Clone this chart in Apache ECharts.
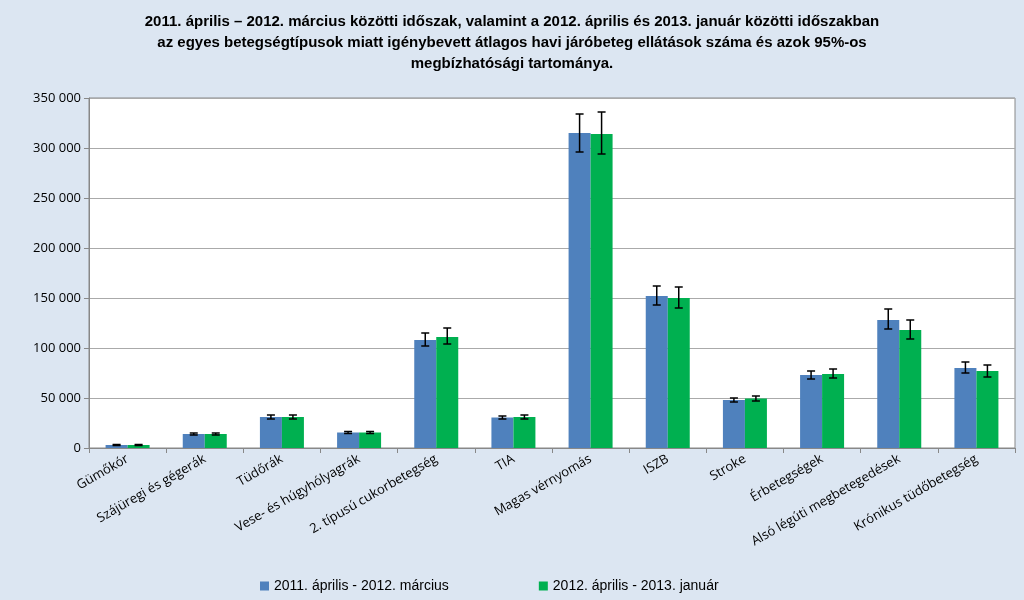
<!DOCTYPE html><html><head><meta charset="utf-8"><script src="https://cdn.jsdelivr.net/npm/echarts@6/dist/echarts.min.js"></script></head>
<body style="margin:0;background:#dce6f2"><div id="c" style="width:1024px;height:600px"></div><script>
const categories=['Gümőkór','Szájüregi és gégerák','Tüdőrák','Vese- és húgyhólyagrák','2. típusú cukorbetegség','TIA','Magas vérnyomás','ISZB','Stroke','Érbetegségek','Alsó légúti megbetegedések','Krónikus tüdőbetegség'];
const s1=[3000,14000,31000,15500,108000,30500,315000,152000,48000,73000,128000,80000];
const s1lo=[2500,13000,29000,14500,102000,29000,296000,143000,46000,69000,119000,75000];
const s1hi=[3500,15000,33000,16500,115000,32000,334000,162000,50000,77000,139000,86000];
const s2=[3000,14000,31000,15500,111000,31000,314000,150000,49500,74000,118000,77000];
const s2lo=[2500,13000,29000,14500,104000,29000,294000,140000,47000,70000,109000,71000];
const s2hi=[3500,15000,33000,16500,120000,33000,336000,161000,52000,79000,128000,83000];
const ch=echarts.init(document.getElementById('c'));
function err(lo,hi,off){return {type:'custom',z:10,data:categories.map((c,i)=>[i,lo[i],hi[i]]),
renderItem:(p,api)=>{const a=api.coord([api.value(0),api.value(1)]),b=api.coord([api.value(0),api.value(2)]);const x=a[0]+off;
const st={stroke:'#000',lineWidth:1.5};return {type:'group',children:[
{type:'line',shape:{x1:x,y1:a[1],x2:x,y2:b[1]},style:st},
{type:'line',shape:{x1:x-4,y1:a[1],x2:x+4,y2:a[1]},style:st},
{type:'line',shape:{x1:x-4,y1:b[1],x2:x+4,y2:b[1]},style:st}]};}};}
ch.setOption({
title:{text:'2011. április – 2012. március közötti időszak, valamint a 2012. április és 2013. január közötti időszakban\naz egyes betegségtípusok miatt igénybevett átlagos havi járóbeteg ellátások száma és azok 95%-os\nmegbízhatósági tartománya.',left:'center',top:6,textStyle:{fontFamily:'Liberation Sans',fontSize:15,fontWeight:'bold',lineHeight:21,color:'#000'}},
grid:{left:89,right:9,top:98,bottom:152,backgroundColor:'#fff',show:true,borderColor:'#888',borderWidth:1},
legend:{bottom:2,left:255,itemGap:90,itemWidth:9,itemHeight:9,icon:'rect',textStyle:{fontFamily:'Liberation Sans',fontSize:14,color:'#000'},data:['2011. április - 2012. március','2012. április - 2013. január']},
xAxis:{type:'category',data:categories,axisLine:{lineStyle:{color:'#888'}},axisTick:{show:true,lineStyle:{color:'#888'}},axisLabel:{rotate:30,interval:0,fontFamily:'Open Sans',fontSize:13,color:'#000',margin:10}},
yAxis:{type:'value',min:0,max:350000,interval:50000,axisLine:{show:true,lineStyle:{color:'#888'}},axisTick:{show:true,lineStyle:{color:'#888'}},splitLine:{lineStyle:{color:'#aaa'}},axisLabel:{fontFamily:'Open Sans',fontSize:13,color:'#000',formatter:v=>v.toLocaleString('en').replace(/,/g,' ')}},
series:[
{name:'2011. április - 2012. március',type:'bar',data:s1,barWidth:22,barGap:'0%',itemStyle:{color:'#4f81bd'}},
{name:'2012. április - 2013. január',type:'bar',data:s2,barWidth:22,itemStyle:{color:'#00b050'}},
err(s1lo,s1hi,-11),err(s2lo,s2hi,11)]
});
</script></body></html>
